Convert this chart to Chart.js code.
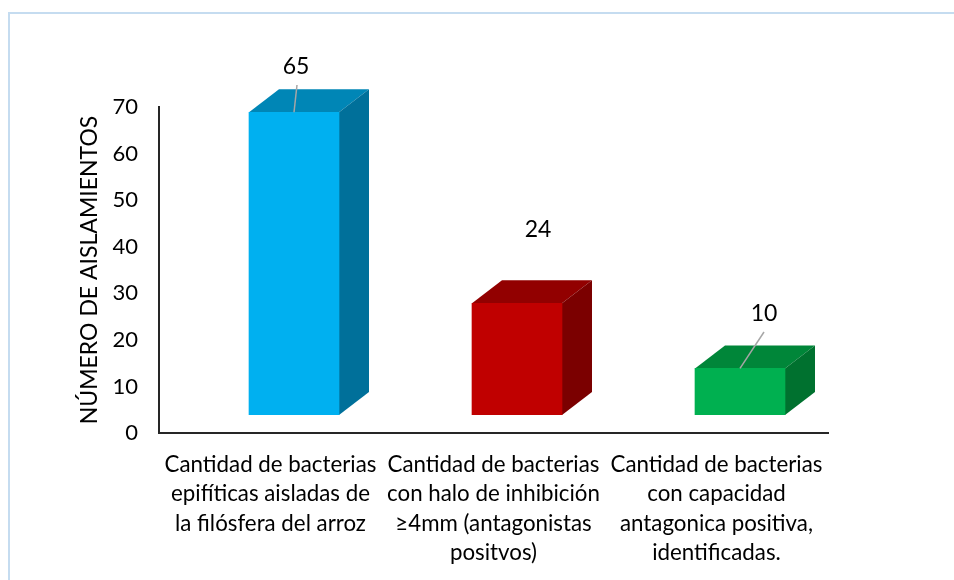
<!DOCTYPE html>
<html><head><meta charset="utf-8">
<style>html,body{margin:0;padding:0;background:#fff}#w{position:absolute;left:0;top:0;width:954px;height:580px}
#frame{position:absolute;left:8px;top:12px;width:946px;height:568px;box-sizing:border-box;border-left:2px solid #c5dcf0;border-top:2px solid #c5dcf0}</style>
<script src="https://cdn.jsdelivr.net/npm/chart.js@4"></script></head>
<body><div id="frame"></div><div id="w"><canvas id="c" width="954" height="580"></canvas></div>
<script>
const categories=[
 ["Cantidad de bacterias","epifíticas aisladas de","la filósfera del arroz"],
 ["Cantidad de bacterias","con halo de inhibición","≥4mm (antagonistas","positvos)"],
 ["Cantidad de bacterias","con capacidad","antagonica positiva,","identificadas."]];
const values=[65,24,10];
const frontColors=["#00b0f0","#c00000","#00b050"];
const topColors=["#0086b6","#920000","#008639"];
const sideColors=["#00709a","#7b0000","#00712f"];
const labelAnchors=[[296,67],[538,230],[764,314]];
const leaders=[true,false,true];
const axisTitle="NÚMERO DE AISLAMIENTOS";
const FONT="Lato";
const SHIFT_X=23.5,SHIFT_Y=-18,DEPTH_X=30,DEPTH_Y=-23;

const bars3d={id:'bars3d',
 beforeDatasetsDraw(ch){const x=ch.ctx;x.save();x.translate(SHIFT_X,SHIFT_Y);
  ch.getDatasetMeta(0).data.forEach((b,i)=>{
   const l=b.x-b.width/2,r=b.x+b.width/2,t=b.y,bt=b.base;
   x.fillStyle=topColors[i];x.beginPath();x.moveTo(l,t);x.lineTo(l+DEPTH_X,t+DEPTH_Y);x.lineTo(r+DEPTH_X,t+DEPTH_Y);x.lineTo(r,t);x.closePath();x.fill();
   x.fillStyle=sideColors[i];x.beginPath();x.moveTo(r,t);x.lineTo(r+DEPTH_X,t+DEPTH_Y);x.lineTo(r+DEPTH_X,bt+DEPTH_Y);x.lineTo(r,bt);x.closePath();x.fill();
  });
 },
 afterDatasetsDraw(ch){const x=ch.ctx;
  x.restore();
  ch.getDatasetMeta(0).data.forEach((b,i)=>{
   const lab=labelAnchors[i];
   if(leaders[i]){x.strokeStyle="#a6a6a6";x.lineWidth=1.5;x.beginPath();x.moveTo(b.x+SHIFT_X,b.y+SHIFT_Y);
     const ex=i==0?lab[0]+1:lab[0], ey=i==0?lab[1]+18:lab[1]+18;
     x.lineTo(ex,ey);x.stroke();}
   x.fillStyle="#000";x.font="23px "+FONT;x.textAlign="center";x.textBaseline="middle";
   x.fillText(String(values[i]),lab[0],lab[1]);
  });
 }};

Chart.defaults.animation=false;
new Chart(document.getElementById('c'),{type:'bar',
 data:{labels:categories,datasets:[{data:values,backgroundColor:frontColors,borderWidth:0,barThickness:90}]},
 plugins:[bars3d],
 options:{responsive:false,animation:false,
  layout:{padding:{left:76,right:126,top:107,bottom:0}},
  plugins:{legend:{display:false},tooltip:{enabled:false}},
  scales:{
   x:{grid:{display:false,drawTicks:false},border:{display:true,color:"#262626",width:2},
      afterFit(s){s.height=147;},
      ticks:{color:"#000",font:{family:FONT,size:22.3,lineHeight:"29.5px"},padding:17,maxRotation:0,minRotation:0,autoSkip:false}},
   y:{min:0,max:70,grid:{display:false,drawTicks:false},border:{display:true,color:"#262626",width:2},
      afterFit(s){s.width=83;},
      ticks:{stepSize:10,color:"#000",font:{family:FONT,size:22},padding:21},
      title:{display:true,text:axisTitle,color:"#000",font:{family:FONT,size:23,weight:'normal'},padding:0}}
  }}});
</script></body></html>
